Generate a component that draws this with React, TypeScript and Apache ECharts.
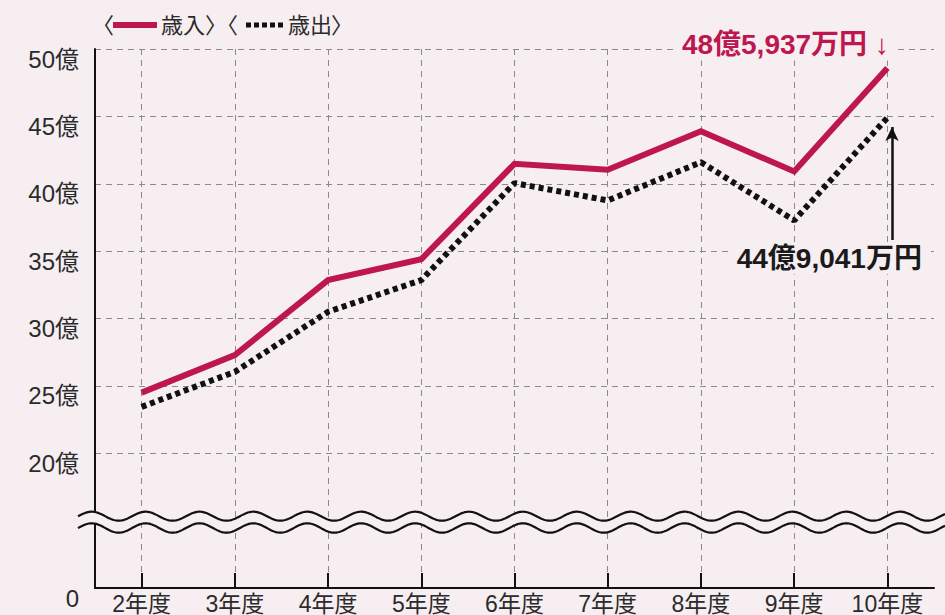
import React, { useEffect, useRef } from 'react';
import * as echarts from 'echarts';

const categories = ['2年度', '3年度', '4年度', '5年度', '6年度', '7年度', '8年度', '9年度', '10年度'];
const revenue = [24.5, 27.28, 32.85, 34.4, 41.48, 41.04, 43.9, 40.91, 48.5937];
const expenditure = [23.44, 26.04, 30.5, 32.85, 40.05, 38.76, 41.6, 37.28, 44.9041];
const seriesNames = ['歳入', '歳出'];
const revenueLabel = '48億5,937万円';
const expenditureLabel = '44億9,041万円';
// broken axis: the bottom of the value axis (10) is shown as "0", 15 sits in the break
const axisMin = 10;
const axisMax = 50;
const axisStep = 5;

const BG = '#f6eef1';
const RED = '#be1750';
const INK = '#2b2b2b';
const FONT = '"Liberation Sans", "Noto Sans CJK JP", sans-serif';

function wavePoints(c: number, a: number, x0: number, period: number, xs: number, xe: number) {
  const pts: number[][] = [];
  for (let x = xs; x <= xe; x += 1) {
    pts.push([x, c - a * Math.cos((2 * Math.PI * (x - x0)) / period)]);
  }
  return pts;
}

export default function App() {
  const ref = useRef<HTMLDivElement>(null);
  useEffect(() => {
    if (!ref.current) return;
    const chart = echarts.init(ref.current, undefined, { renderer: 'svg' });
    const upper = wavePoints(516.2, 4.5, 91.7, 53.9, 78, 945);
    const lower = wavePoints(528, 4.7, 91.7, 53.9, 78, 945);
    const band = upper.concat(lower.slice().reverse());
    const legendText = (t: string, x: number) => ({
      type: 'text', x, y: 25, z: 100,
      style: { text: t, fontSize: 22, fontFamily: FONT, fill: INK, verticalAlign: 'middle', align: 'left' },
    });
    chart.setOption({
      animation: false,
      backgroundColor: BG,
      textStyle: { fontFamily: FONT },
      grid: { left: 95, right: 11, top: 49, bottom: 26, containLabel: false },
      xAxis: {
        type: 'category',
        data: categories,
        boundaryGap: true,
        axisLine: { show: true, lineStyle: { color: '#111', width: 2 } },
        axisTick: { show: true, inside: true, length: 15, alignWithLabel: true, lineStyle: { color: '#111', width: 2 } },
        axisLabel: { fontSize: 23, color: INK, margin: 4, fontFamily: FONT, interval: 0, lineHeight: 23 },
        splitLine: { show: true, alignWithLabel: true, lineStyle: { color: '#8a8a8a', width: 1, type: [6, 5] } },
      },
      yAxis: {
        type: 'value',
        min: axisMin,
        max: axisMax,
        interval: axisStep,
        axisLine: { show: true, lineStyle: { color: '#111', width: 2 } },
        axisTick: { show: false },
        axisLabel: {
          fontSize: 24,
          color: INK,
          margin: 16,
          fontFamily: FONT,
          verticalAlign: 'top',
          lineHeight: 20,
          formatter: (v: number) => (v === axisMin ? '0' : v === axisMin + axisStep ? '' : v + '億'),
        },
        splitLine: {
          show: true,
          lineStyle: {
            color: ['transparent', 'transparent', '#8a8a8a', '#8a8a8a', '#8a8a8a', '#8a8a8a', '#8a8a8a', '#8a8a8a', '#8a8a8a'],
            width: 1,
            type: [6, 5],
          },
        },
      },
      series: [
        {
          name: seriesNames[0],
          type: 'line',
          data: revenue,
          symbol: 'none',
          z: 3,
          lineStyle: { color: RED, width: 6, join: 'miter' },
          markPoint: {
            silent: true,
            symbol: 'rect',
            symbolSize: 1,
            itemStyle: { color: 'transparent' },
            data: [
              {
                coord: [categories[8], revenue[8]],
                label: {
                  show: true,
                  formatter: revenueLabel + ' ↓',
                  position: [8, -23],
                  align: 'right',
                  verticalAlign: 'middle',
                  color: RED,
                  fontSize: 28,
                  fontWeight: 'bold',
                  fontFamily: FONT,
                  backgroundColor: BG,
                  padding: [2, 6],
                },
              },
            ],
          },
        },
        {
          name: seriesNames[1],
          type: 'line',
          data: expenditure,
          symbol: 'none',
          z: 3,
          lineStyle: { color: '#111', width: 6, type: [5, 4], cap: 'butt' },
          markPoint: {
            silent: true,
            symbol: 'rect',
            symbolSize: 1,
            itemStyle: { color: 'transparent' },
            data: [
              {
                coord: [categories[8], expenditure[8]],
                label: {
                  show: true,
                  formatter: expenditureLabel,
                  position: [41, 141],
                  align: 'right',
                  verticalAlign: 'middle',
                  color: '#1a1a1a',
                  fontSize: 28,
                  fontWeight: 'bold',
                  fontFamily: FONT,
                  backgroundColor: BG,
                  padding: [2, 6],
                },
              },
            ],
          },
          markLine: {
            silent: true,
            symbol: ['none', 'arrow'],
            symbolSize: [10, 14],
            label: { show: false },
            lineStyle: { color: '#111', width: 2.5, type: 'solid' },
            data: [[{ x: 892, y: 240 }, { x: 892, y: 127 }]],
          },
        },
      ],
      graphic: [
        { type: 'polygon', z: 90, silent: true, shape: { points: band }, style: { fill: BG, stroke: 'none' } },
        { type: 'polyline', z: 91, silent: true, shape: { points: upper }, style: { stroke: '#111', lineWidth: 2.2, fill: 'none' } },
        { type: 'polyline', z: 91, silent: true, shape: { points: lower }, style: { stroke: '#111', lineWidth: 2.2, fill: 'none' } },
        legendText('〈', 92),
        { type: 'line', z: 100, shape: { x1: 113, y1: 25, x2: 157, y2: 25 }, style: { stroke: RED, lineWidth: 6 } },
        legendText('歳入', 161),
        legendText('〉〈', 205),
        { type: 'line', z: 100, shape: { x1: 246, y1: 25, x2: 286, y2: 25 }, style: { stroke: '#111', lineWidth: 5, lineDash: [5, 3] } },
        legendText('歳出', 288),
        legendText('〉', 331),
      ],
    });
    return () => chart.dispose();
  }, []);
  return <div ref={ref} style={{ position: 'absolute', left: 0, top: 0, width: 945, height: 615 }} />;
}
